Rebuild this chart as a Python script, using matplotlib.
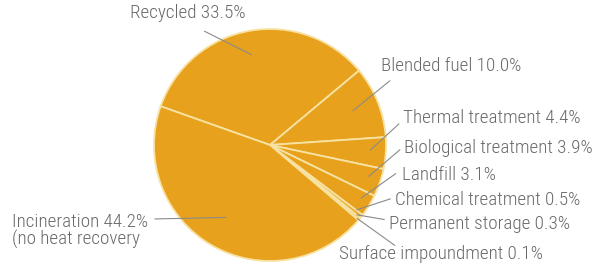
import numpy as np
import matplotlib
matplotlib.use("Agg")
import matplotlib.pyplot as plt

# Waste management shares (%)
categories = ['Recycled', 'Blended fuel', 'Thermal treatment', 'Biological treatment',
              'Landfill', 'Chemical treatment', 'Permanent storage',
              'Surface impoundment', 'Incineration']
shares = [33.5, 10.0, 4.4, 3.9, 3.1, 0.5, 0.3, 0.1, 44.2]
labels = ['Recycled 33.5%', 'Blended fuel 10.0%', 'Thermal treatment 4.4%',
          'Biological treatment 3.9%', 'Landfill 3.1%', 'Chemical treatment 0.5%',
          'Permanent storage 0.3%', 'Surface impoundment 0.1%',
          'Incineration 44.2%\n(no heat recovery']

FILL = '#E8A11C'
EDGE = '#F7E2A2'
TEXT = '#6a6a6a'
LEADER = '#8a8a8a'
H = 271

plt.rcParams['font.family'] = ['Roboto Condensed', 'DejaVu Sans']

fig = plt.figure(figsize=(5.97, 2.71), dpi=100)
ax = fig.add_axes([0, 0, 1, 1])

cx, cy, R = 270, H - 145, 116
wedges, _ = ax.pie(shares, colors=[FILL] * len(shares), startangle=160.5,
                   counterclock=False, center=(cx, cy), radius=R,
                   wedgeprops=dict(edgecolor=EDGE, linewidth=1.3))
ax.set_xlim(0, 597)
ax.set_ylim(0, H)
ax.set_aspect('equal')
ax.axis('off')

# label anchor (left x, centre y in image px), leader outer end, inner radius fraction
text_pos = [(130, 13), (381, 66), (403, 118), (404, 148), (402, 175),
            (395, 200), (389, 224), (339, 254), (12, 231)]
leader_out = [(202, 30), (392, 79), (401, 122), (402, 148), (398, 172),
              (393, 198), (387, 220), (397, 247), (152, 219)]
inner_r = [0.78, 0.75, 0.85, 0.88, 0.9, 0.92, 0.94, 0.96, 0.72]

for w, lab, (tx, ty), (ox, oy), rf in zip(wedges, labels, text_pos, leader_out, inner_r):
    mid = np.deg2rad((w.theta1 + w.theta2) / 2)
    ix = cx + rf * R * np.cos(mid)
    iy = cy + rf * R * np.sin(mid)
    ax.annotate('', xy=(ix, iy), xytext=(ox, H - oy),
                arrowprops=dict(arrowstyle='-', color=LEADER, lw=0.8))
    ax.text(tx, H - ty, lab, ha='left', va='center', color=TEXT,
            fontsize=13.8, fontweight='light', linespacing=0.95)

fig.savefig('out.png', dpi=100)
